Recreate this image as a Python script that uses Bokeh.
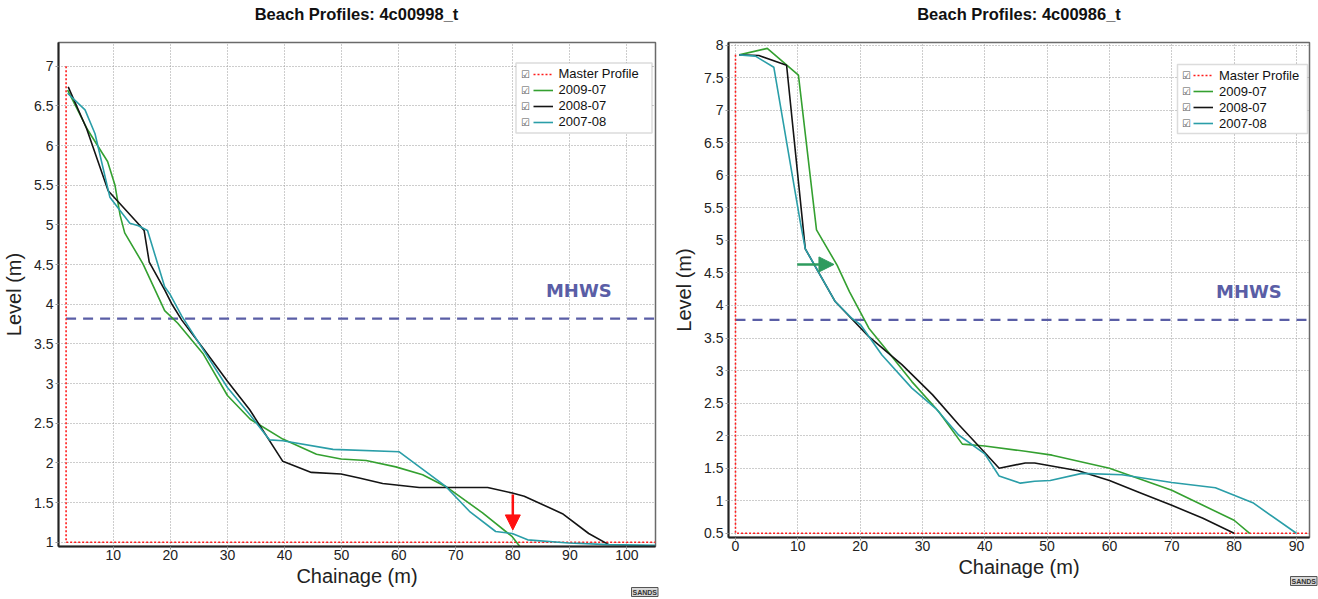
from bokeh.plotting import figure
from bokeh.layouts import row
from bokeh.models import (Range1d, FixedTicker, NumeralTickFormatter, Legend, LegendItem,
                          Label, Arrow, NormalHead, BoxAnnotation)
from bokeh.embed import file_html
from bokeh.resources import INLINE

FONT = "Liberation Sans"

# ---------------- Left chart: Beach Profiles 4c00998_t ----------------
L_TITLE = "Beach Profiles: 4c00998_t"
L_XTICKS = [10, 20, 30, 40, 50, 60, 70, 80, 90, 100]
L_YTICKS = [1, 1.5, 2, 2.5, 3, 3.5, 4, 4.5, 5, 5.5, 6, 6.5, 7]
L_MASTER_X = [1.73, 1.73, 105.0]
L_MASTER_Y = [7.0, 1.0, 1.0]
L_2009_X = [2.0, 5.5, 9.0, 10.3, 11.2, 12.0, 15.2, 19.0, 21.3, 25.7, 30.0, 34.0, 39.7, 45.6,
            49.9, 54.3, 59.5, 64.2, 68.3, 74.7, 79.9, 81.2]
L_2009_Y = [6.70, 6.20, 5.80, 5.50, 5.12, 4.90, 4.51, 3.92, 3.76, 3.38, 2.85, 2.55, 2.30, 2.11,
            2.05, 2.03, 1.95, 1.85, 1.70, 1.37, 1.07, 0.95]
L_2008_X = [2.1, 5.35, 9.1, 14.7, 15.4, 16.3, 19.0, 20.2, 22.0, 26.0, 30.0, 33.9, 39.7, 44.7,
            49.9, 53.1, 57.2, 63.6, 68.3, 75.6, 79.9, 82.0, 88.7, 93.3, 96.8]
L_2008_Y = [6.74, 6.21, 5.43, 4.99, 4.93, 4.53, 4.18, 4.01, 3.80, 3.42, 3.03, 2.67, 2.02, 1.88,
            1.86, 1.81, 1.74, 1.69, 1.69, 1.69, 1.62, 1.58, 1.36, 1.11, 0.97]
L_2007_X = [2.0, 5.05, 6.8, 9.4, 12.9, 14.4, 16.0, 19.0, 19.9, 22.0, 26.0, 30.0, 34.0, 37.4,
            39.7, 48.5, 60.1, 68.3, 72.4, 77.0, 79.9, 82.6, 89.8, 96.8, 104.9]
L_2007_Y = [6.66, 6.45, 6.15, 5.35, 5.02, 4.99, 4.93, 4.22, 4.13, 3.85, 3.40, 2.95, 2.60, 2.29,
            2.28, 2.17, 2.14, 1.70, 1.39, 1.135, 1.11, 1.03, 0.99, 0.97, 0.96]
L_MHWS_X = [1.73, 105.0]
L_MHWS_Y = [3.82, 3.82]

# ---------------- Right chart: Beach Profiles 4c00986_t ----------------
R_TITLE = "Beach Profiles: 4c00986_t"
R_XTICKS = [0, 10, 20, 30, 40, 50, 60, 70, 80, 90]
R_YTICKS = [0.5, 1, 1.5, 2, 2.5, 3, 3.5, 4, 4.5, 5, 5.5, 6, 6.5, 7, 7.5, 8]
R_MASTER_X = [0.0, 0.0, 92.5]
R_MASTER_Y = [7.85, 0.5, 0.5]
R_2009_X = [0.6, 5.1, 10.1, 13.0, 16.3, 18.3, 21.4, 24.9, 28.3, 32.6, 36.4, 40.0, 46.5, 50.8,
            60.0, 70.0, 75.0, 80.0, 82.5]
R_2009_Y = [7.85, 7.95, 7.54, 5.16, 4.62, 4.21, 3.65, 3.24, 2.83, 2.37, 1.87, 1.84, 1.76, 1.70,
            1.50, 1.16, 0.93, 0.70, 0.50]
R_2008_X = [0.6, 3.75, 8.2, 11.2, 16.0, 21.4, 26.7, 31.6, 35.8, 39.8, 42.3, 46.5, 48.0, 55.0,
            60.0, 65.0, 70.0, 75.0, 80.0]
R_2008_Y = [7.85, 7.84, 7.69, 4.87, 4.06, 3.52, 3.09, 2.63, 2.17, 1.76, 1.50, 1.58, 1.58, 1.46,
            1.31, 1.12, 0.93, 0.73, 0.50]
R_2007_X = [0.6, 3.2, 6.15, 10.4, 11.2, 16.0, 18.7, 20.1, 23.5, 28.3, 32.1, 35.8, 40.0, 42.3,
            45.7, 48.0, 50.5, 55.6, 62.0, 70.0, 77.0, 83.0, 90.0]
R_2007_Y = [7.85, 7.83, 7.66, 5.28, 4.87, 4.06, 3.80, 3.70, 3.24, 2.73, 2.42, 2.01, 1.72, 1.38,
            1.27, 1.30, 1.31, 1.42, 1.40, 1.28, 1.20, 0.97, 0.50]
R_MHWS_X = [0.0, 92.5]
R_MHWS_Y = [3.78, 3.78]

SERIES_NAMES = ["2009-07", "2008-07", "2007-08"]
SERIES_COLORS = ["#34a030", "#141414", "#2a9ea8"]
MASTER_NAME = "Master Profile"
MHWS_TEXT = "MHWS"
MHWS_COLOR = "#5a5ea6"
LOGO_TEXT = "SANDS"


def make_chart(title, width, height, borders, xr, yr, xticks, yticks,
               master_x, master_y, series, mhws_x, mhws_y, mhws_pos,
               legend_box, legend_loc, check_x, check_ys, arrow, logo_pos,
               title_pos, xlabel_standoff):
    bl, br, bt, bb = borders
    p = figure(width=width, height=height, output_backend="svg", toolbar_location=None,
               x_range=Range1d(*xr), y_range=Range1d(*yr),
               min_border_left=bl, min_border_right=br, min_border_top=bt, min_border_bottom=bb)
    p.background_fill_color = "white"
    p.border_fill_color = "white"
    p.outline_line_color = "#6a6a6a"
    p.outline_line_width = 1.5

    # chart title, drawn as a label in the top side panel
    p.add_layout(Label(x=title_pos[0], y=title_pos[1], x_units="screen", y_units="screen",
                       text=title, text_font=FONT, text_font_style="bold",
                       text_font_size="16.5px", text_color="#111111",
                       text_align="center", text_baseline="middle"), "above")

    p.xaxis.ticker = FixedTicker(ticks=xticks)
    p.yaxis.ticker = FixedTicker(ticks=yticks)
    p.yaxis.formatter = NumeralTickFormatter(format="0.[0]")
    p.xaxis.axis_label = "Chainage (m)"
    p.yaxis.axis_label = "Level (m)"
    for ax in (p.xaxis, p.yaxis):
        ax.axis_label_text_font = FONT
        ax.axis_label_text_font_size = "20px"
        ax.axis_label_text_font_style = "normal"
        ax.axis_label_text_color = "#222222"
        ax.major_label_text_font = FONT
        ax.major_label_text_font_size = "14px"
        ax.major_label_text_color = "#222222"
        ax.axis_line_color = "#222222"
        ax.axis_line_width = 2
        ax.major_tick_in = 0
        ax.major_tick_out = 3
        ax.major_tick_line_color = "#999999"
        ax.minor_tick_line_color = None
    p.xaxis.major_label_standoff = 0
    p.yaxis.major_label_standoff = 2
    p.xaxis.axis_label_standoff = xlabel_standoff
    p.yaxis.axis_label_standoff = 6

    for g in (p.xgrid, p.ygrid):
        g.grid_line_color = "#9a9a9a"
        g.grid_line_dash = "1 2"
        g.grid_line_width = 1

    # MHWS reference line
    p.line(mhws_x, mhws_y, line_color=MHWS_COLOR, line_width=2.2, line_dash="10 7")
    # master profile
    r_master = p.line(master_x, master_y, line_color="#ff1a1a", line_width=1.6, line_dash="2 2")
    rs = []
    for (xs, ys), name, col in zip(series, SERIES_NAMES, SERIES_COLORS):
        rs.append((name, p.line(xs, ys, line_color=col, line_width=1.6)))

    # MHWS label
    p.add_layout(Label(x=mhws_pos[0], y=mhws_pos[1], text=MHWS_TEXT, text_font="DejaVu Sans",
                       text_font_style="bold", text_font_size="18px", text_color=MHWS_COLOR,
                       text_baseline="middle", text_align="left"))

    # arrow
    ax0, ay0, ax1, ay1, acol, asize = arrow
    p.add_layout(Arrow(x_start=ax0, y_start=ay0, x_end=ax1, y_end=ay1,
                       line_color=acol, line_width=2.5,
                       end=NormalHead(size=asize, fill_color=acol, line_color=acol)))

    # legend box
    l, r, t, b = legend_box
    p.add_layout(BoxAnnotation(left=l, right=r, top=t, bottom=b,
                               left_units="screen", right_units="screen",
                               top_units="screen", bottom_units="screen",
                               fill_color="white", fill_alpha=1.0,
                               line_color="#8a8a8a", line_width=1.5))
    items = [LegendItem(label=MASTER_NAME, renderers=[r_master])]
    items += [LegendItem(label=n, renderers=[rr]) for n, rr in rs]
    leg = Legend(items=items, location=legend_loc, orientation="vertical",
                 padding=0, spacing=0, margin=0, glyph_width=20, glyph_height=16,
                 label_height=16, label_standoff=6, label_text_font=FONT,
                 label_text_font_size="13px", label_text_color="#111111",
                 border_line_color=None, background_fill_alpha=0.0)
    p.add_layout(leg)
    for cy in check_ys:
        p.add_layout(Label(x=check_x, y=cy, x_units="screen", y_units="screen", text="\u2611",
                           text_font="DejaVu Sans", text_font_size="10px", text_color="#555555",
                           text_baseline="middle", text_align="left"))

    # SANDS logo placed in the bottom side panel
    p.add_layout(Label(x=logo_pos[0], y=logo_pos[1], x_units="screen", y_units="screen",
                       text=LOGO_TEXT, text_font=FONT, text_font_style="bold",
                       text_font_size="7px", text_color="#333333",
                       background_fill_color="#d8d8d8", border_line_color="#555555",
                       padding=1, text_baseline="bottom", text_align="left"), "below")
    return p


p1 = make_chart(L_TITLE, 662, 599, (58, 7, 42, 53), (0.4, 105.0), (0.946, 7.30),
                L_XTICKS, L_YTICKS, L_MASTER_X, L_MASTER_Y,
                [(L_2009_X, L_2009_Y), (L_2008_X, L_2008_Y), (L_2007_X, L_2007_Y)],
                L_MHWS_X, L_MHWS_Y, (85.8, 4.17),
                (457.5, 593.5, 483.5, 413.5), (474.5, 416.5), 462.5,
                [472.5, 456.5, 440.5, 424.5],
                (80, 1.60, 80, 1.155, "#ff1010", 15), (573, 2),
                (298, 29), 2)

p2 = make_chart(R_TITLE, 656, 590, (66, 9, 42, 53), (-1.12, 92.1), (0.435, 8.04),
                R_XTICKS, R_YTICKS, R_MASTER_X, R_MASTER_Y,
                [(R_2009_X, R_2009_Y), (R_2008_X, R_2008_Y), (R_2007_X, R_2007_Y)],
                R_MHWS_X, R_MHWS_Y, (77.1, 4.21),
                (449, 579, 473, 404), (465, 406), 453.5,
                [462, 446, 430, 414],
                (9.9, 4.63, 15.8, 4.63, "#2e9b5e", 15), (562, 4),
                (290.5, 29), 2)

layout = row(p1, p2)
open("out.html", "w").write(file_html(layout, INLINE))
